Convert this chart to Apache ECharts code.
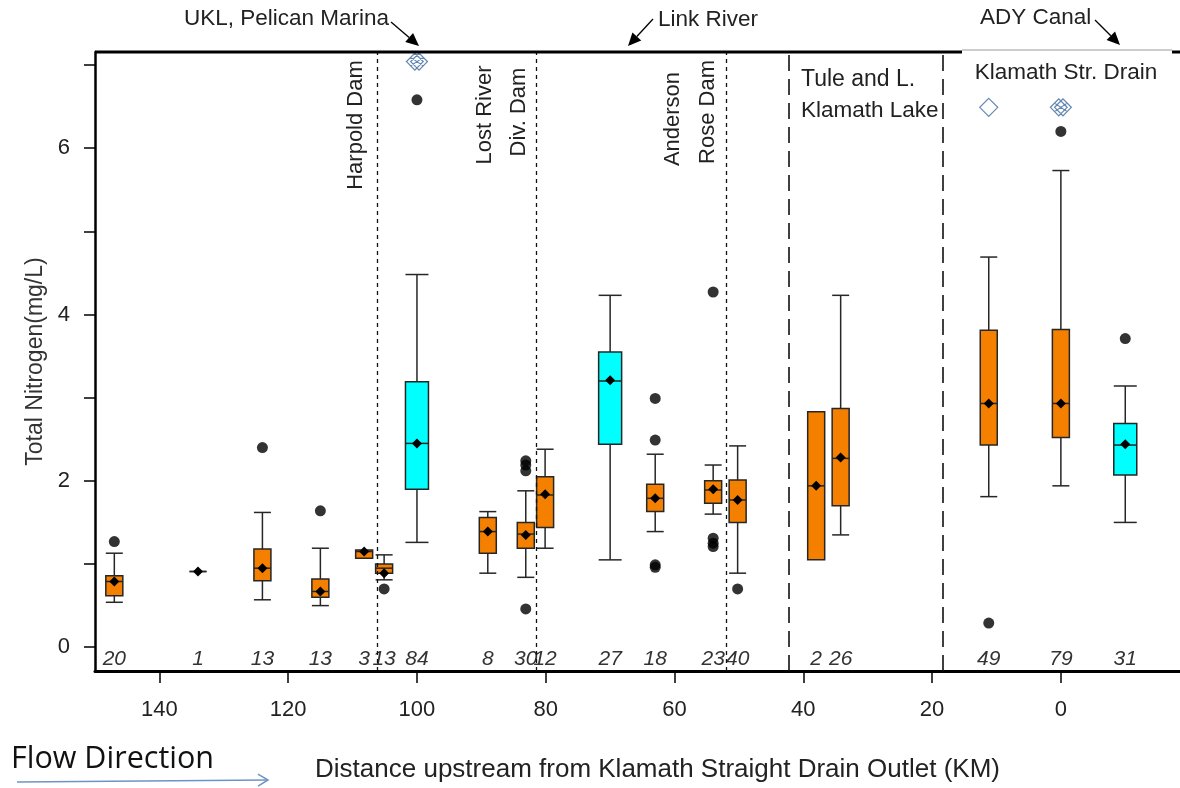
<!DOCTYPE html>
<html><head><meta charset="utf-8">
<script src="https://cdn.jsdelivr.net/npm/echarts@6/dist/echarts.min.js"></script>
<style>html,body{margin:0;padding:0;background:#fff}#c{width:1180px;height:788px}</style>
</head><body><div id="c"></div>
<script>
// ---------- data ----------
const siteKm      = [147, 134, 124, 115, 108.2, 105.1, 100, 89, 83.1, 80.1, 70, 63, 54, 50.2, 38, 34.2, 11.2, 0, -10];
const sampleCount = [20, 1, 13, 13, 3, 13, 84, 8, 30, 12, 27, 18, 23, 40, 2, 26, 49, 79, 31];
const whiskerLow  = [0.54, 0.91, 0.57, 0.50, 1.07, 0.81, 1.26, 0.89, 0.84, 1.19, 1.05, 1.39, 1.60, 0.89, 1.05, 1.35, 1.81, 1.94, 1.50];
const q1          = [0.62, 0.91, 0.80, 0.60, 1.07, 0.89, 1.90, 1.13, 1.19, 1.44, 2.44, 1.63, 1.73, 1.50, 1.05, 1.70, 2.43, 2.52, 2.07];
const median      = [0.79, 0.91, 0.95, 0.67, 1.15, 0.95, 2.45, 1.39, 1.36, 1.83, 3.20, 1.79, 1.89, 1.77, 1.94, 2.27, 2.93, 2.93, 2.43];
const q3          = [0.86, 0.91, 1.18, 0.82, 1.17, 1.00, 3.19, 1.56, 1.50, 2.05, 3.55, 1.96, 2.00, 2.01, 2.83, 2.87, 3.81, 3.82, 2.69];
const whiskerHigh = [1.13, 0.91, 1.62, 1.19, 1.17, 1.11, 4.48, 1.63, 1.88, 2.38, 4.23, 2.32, 2.19, 2.42, 2.83, 4.23, 4.69, 5.73, 3.14];
const meanVal     = [0.79, 0.91, 0.95, 0.67, 1.15, 0.89, 2.45, 1.39, 1.35, 1.84, 3.21, 1.79, 1.90, 1.77, 1.94, 2.28, 2.93, 2.93, 2.44];
const siteKind    = ['river','river','river','river','river','river','lake','river','river','river','lake','river','river','river','river','river','river','river','lake'];
const outliers    = [[1.27], [], [2.40], [1.64], [], [0.70], [6.58], [], [2.24, 2.19, 2.12, 0.46], [], [], [2.99, 2.49, 0.99, 0.96], [4.27, 1.31, 1.25, 1.21], [0.70], [], [], [0.29], [6.20], [3.71]];
const openDiamonds    = [[11.2, 6.49]];
const crossedDiamonds = [[100, 7.04], [0, 6.49]];
const damLines    = [106.1, 81.5, 52.0];
const regionLines = [42.2, 18.3];
const xTicks  = [0, 20, 40, 60, 80, 100, 120, 140];
const yTicks  = [0, 1, 2, 3, 4, 5, 6, 7];
const yLabels = [0, 2, 4, 6];

// ---------- build ----------
const FONT = "'Liberation Sans', Arial, sans-serif";
const boxData = siteKm.map((k, i) => [k, whiskerLow[i], q1[i], median[i], q3[i], whiskerHigh[i], meanVal[i], sampleCount[i]]);
const outlierData = [];
outliers.forEach((arr, i) => arr.forEach(v => outlierData.push([siteKm[i], v])));

function renderBox(params, api) {
  const i = params.dataIndex;
  const x = api.value(0);
  const c = v => api.coord([x, v]);
  const lo = c(api.value(1)), b1 = c(api.value(2)), md = c(api.value(3)), b3 = c(api.value(4)), hi = c(api.value(5)), mn = c(api.value(6));
  const lake = siteKind[i] === 'lake';
  const w = lake ? 23 : 17;
  const fill = lake ? '#00FFFF' : '#F58000';
  const cx = md[0];
  const st = { stroke: '#262626', lineWidth: 1.5 };
  const ch = [];
  if (hi[1] < b3[1] - 0.5) {
    ch.push({ type: 'line', shape: { x1: cx, y1: b3[1], x2: cx, y2: hi[1] }, style: st });
    ch.push({ type: 'line', shape: { x1: cx - w / 2, y1: hi[1], x2: cx + w / 2, y2: hi[1] }, style: st });
  }
  if (lo[1] > b1[1] + 0.5) {
    ch.push({ type: 'line', shape: { x1: cx, y1: b1[1], x2: cx, y2: lo[1] }, style: st });
    ch.push({ type: 'line', shape: { x1: cx - w / 2, y1: lo[1], x2: cx + w / 2, y2: lo[1] }, style: st });
  }
  ch.push({ type: 'rect', shape: { x: cx - w / 2, y: b3[1], width: w, height: b1[1] - b3[1] }, style: { fill: fill, stroke: '#262626', lineWidth: 1.5 } });
  ch.push({ type: 'line', shape: { x1: cx - w / 2, y1: md[1], x2: cx + w / 2, y2: md[1] }, style: st });
  const d = 5;
  ch.push({ type: 'polygon', shape: { points: [[cx, mn[1] - d], [cx + d, mn[1]], [cx, mn[1] + d], [cx - d, mn[1]]] }, style: { fill: '#000' } });
  const cs = params.coordSys;
  ch.push({ type: 'text', x: cx, y: cs.y + cs.height - 12, style: { text: String(api.value(7)), font: 'italic 21px ' + FONT, fill: '#333', align: 'center', verticalAlign: 'middle' } });
  return { type: 'group', children: ch };
}

const chart = echarts.init(document.getElementById('c'), null, { renderer: 'canvas' });
const markLineData = damLines.map(v => ({ xAxis: v, lineStyle: { type: [4, 4], width: 1.3, color: '#111' } }))
  .concat(regionLines.map(v => ({ xAxis: v, lineStyle: { type: [16, 8], width: 1.6, color: '#111' } })));

chart.setOption({
  animation: false,
  backgroundColor: '#fff',
  grid: { left: 95, right: 0, top: 52, bottom: 110, containLabel: false },
  xAxis: {
    type: 'value', inverse: true, min: -18.5, max: 150,
    name: 'Distance upstream from Klamath Straight Drain Outlet (KM)',
    nameLocation: 'middle', nameGap: 86,
    nameTextStyle: { fontFamily: FONT, fontSize: 26, color: '#222', padding: [0, 0, 0, 40] },
    axisLine: { onZero: false, lineStyle: { color: '#000', width: 3 } },
    axisTick: { customValues: xTicks, length: 12, lineStyle: { color: '#000', width: 1.5 } },
    axisLabel: { customValues: xTicks, fontFamily: FONT, fontSize: 22, color: '#222', margin: 28 },
    splitLine: { show: false }
  },
  yAxis: {
    type: 'value', min: -0.286, max: 7.155,
    name: 'Total Nitrogen(mg/L)', nameLocation: 'middle', nameGap: 45,
    nameTextStyle: { fontFamily: FONT, fontSize: 23, color: '#333' },
    axisLine: { onZero: false, lineStyle: { color: '#000', width: 2.5 } },
    axisTick: { customValues: yTicks, length: 11, lineStyle: { color: '#000', width: 1.5 } },
    axisLabel: { customValues: yLabels, fontFamily: FONT, fontSize: 22, color: '#222', margin: 25 },
    splitLine: { show: false }
  },
  series: [
    {
      type: 'scatter', data: outlierData, symbol: 'circle', symbolSize: 11,
      itemStyle: { color: '#000' }, z: 3,
      markLine: { silent: true, symbol: ['none', 'none'], label: { show: false }, data: markLineData }
    },
    { type: 'custom', data: boxData, renderItem: renderBox, encode: { x: 0, y: [1, 2, 3, 4, 5] }, z: 4 },
    {
      type: 'scatter', data: openDiamonds, symbol: 'diamond', symbolSize: [18, 18],
      itemStyle: { color: 'rgba(0,0,0,0)', borderColor: '#3d6aa0', borderWidth: 1.2 }, z: 5
    },
    {
      type: 'scatter', data: crossedDiamonds,
      symbol: 'path://M8,0 L16,8 L8,16 L0,8 Z M12,0 L20,8 L12,16 L4,8 Z M4,4 L16,12 M16,4 L4,12',
      symbolSize: [21, 17],
      itemStyle: { color: 'rgba(0,0,0,0)', borderColor: '#3d6aa0', borderWidth: 1.2 }, z: 5
    }
  ]
});

// ---------- annotations ----------
function arrow(x1, y1, x2, y2, color, filled) {
  const ang = Math.atan2(y2 - y1, x2 - x1), L = filled ? 13 : 10, H = 6;
  const bx = x2 - L * Math.cos(ang), by = y2 - L * Math.sin(ang);
  const px = -Math.sin(ang) * H, py = Math.cos(ang) * H;
  const els = [{ type: 'line', shape: { x1, y1, x2: filled ? bx : x2, y2: filled ? by : y2 }, style: { stroke: color, lineWidth: filled ? 1.3 : 1.5 } }];
  if (filled) {
    els.push({ type: 'polygon', shape: { points: [[x2, y2], [bx + px, by + py], [bx - px, by - py]] }, style: { fill: color } });
  } else {
    els.push({ type: 'polyline', shape: { points: [[bx + px, by + py], [x2, y2], [bx - px, by - py]] }, style: { stroke: color, lineWidth: 1.5, fill: null } });
  }
  return els;
}
const px = (k, v) => chart.convertToPixel({ gridIndex: 0 }, [k, v]);
const gTop = px(150, 7.155)[1];
const F22 = '22.5px ' + FONT;
const txt = (text, x, y, opt) => ({ type: 'text', x, y, style: Object.assign({ text, font: F22, fill: '#222', align: 'left', verticalAlign: 'middle' }, opt || {}) });
const rot = (text, k, dx, y) => ({ type: 'text', x: px(k, 0)[0] + dx, y, rotation: Math.PI / 2, style: { text, font: '22px ' + FONT, fill: '#222', align: 'center', verticalAlign: 'middle' } });

const graphics = [
  { type: 'line', shape: { x1: 95, y1: gTop, x2: 962, y2: gTop }, style: { stroke: '#000', lineWidth: 3 } },
  { type: 'line', shape: { x1: 962, y1: gTop - 2, x2: 1172, y2: gTop - 2 }, style: { stroke: '#9a9a9a', lineWidth: 1 } },
  { type: 'line', shape: { x1: 1172, y1: gTop, x2: 1180, y2: gTop }, style: { stroke: '#000', lineWidth: 3 } },
  txt('UKL, Pelican Marina', 184, 19),
  txt('Link River', 658, 20),
  txt('ADY Canal', 980, 18),
  rot('Harpold Dam', damLines[0], -22, 125),
  rot('Lost River', damLines[1], -51, 115),
  rot('Div. Dam', damLines[1], -17, 112),
  rot('Anderson', damLines[2], -53, 119),
  rot('Rose Dam', damLines[2], -18, 112),
  txt('Tule and L.', 801, 80, { font: '23px ' + FONT }),
  txt('Klamath Lake', 801, 111, { font: '22.5px ' + FONT }),
  txt('Klamath Str. Drain', 1066, 73, { align: 'center' }),
  txt('Flow Direction', 11, 759, { font: '30.5px "Open Sans", Lato, sans-serif', fill: '#111' })
].concat(arrow(391, 22, 419, 46, '#000', true))
 .concat(arrow(653, 19, 628, 46, '#000', true))
 .concat(arrow(1095, 20, 1120, 45, '#000', true))
 .concat(arrow(17, 782, 268, 780, '#6f94c4', false));

chart.setOption({ graphic: graphics.map(g => Object.assign({ silent: true, z: 10 }, g)) });
</script>
</body></html>
